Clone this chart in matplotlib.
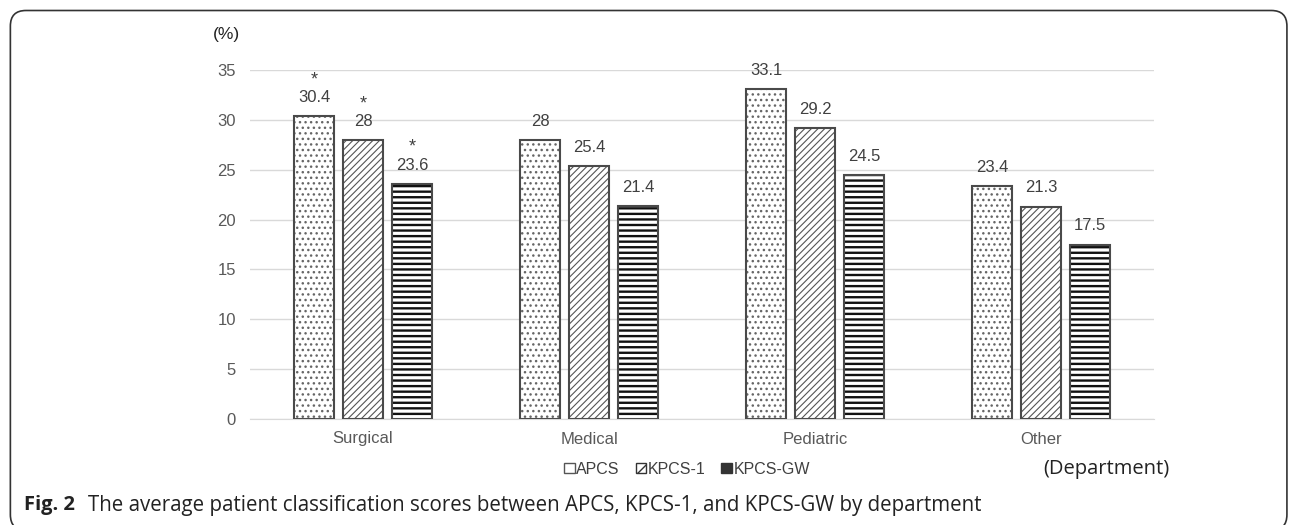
import numpy as np
import matplotlib.pyplot as plt
from matplotlib.patches import FancyBboxPatch, Patch

# Datos
departamentos = ['Surgical', 'Medical', 'Pediatric', 'Other']
series = ['APCS', 'KPCS-1', 'KPCS-GW']
apcs = [30.4, 28, 33.1, 23.4]
kpcs1 = [28, 25.4, 29.2, 21.3]
kpcsgw = [23.6, 21.4, 24.5, 17.5]
significativo = [True, False, False, False]  # asterisco solo en Surgical

valores = [apcs, kpcs1, kpcsgw]
tramas = ['...', '/////', '---']
grosor_trama = [1.0, 0.8, 1.7]
color_trama = ['#666666', '#555555', '#111111']

fuente_graf = ['Liberation Sans', 'DejaVu Sans']
fuente_pie = ['Open Sans', 'DejaVu Sans']

fig = plt.figure(figsize=(12.96, 5.25), dpi=100)
fig.patch.set_facecolor('white')

# Marco redondeado
marco = FancyBboxPatch((0.008, -0.01), 0.985, 0.99, boxstyle='round,pad=0,rounding_size=0.012',
                       transform=fig.transFigure, facecolor='none', edgecolor='#333333',
                       linewidth=1.2, mutation_aspect=1296 / 525)
fig.patches.append(marco)

ax = fig.add_axes([250 / 1296, 1 - 419 / 525, 904 / 1296, 349 / 525])
x = np.arange(len(departamentos))
ancho = 0.177
paso = 0.217

for i, vals in enumerate(valores):
    pos = x + (i - 1) * paso
    # capa de trama (color propio) + contorno encima
    capa = ax.bar(pos, vals, width=ancho, color='white', edgecolor=color_trama[i],
                  hatch=tramas[i], linewidth=0, zorder=3)
    for p in capa:
        if hasattr(p, 'set_hatch_linewidth'):
            p.set_hatch_linewidth(grosor_trama[i])
    ax.bar(pos, vals, width=ancho, color='none', edgecolor='#4a4a4a',
           linewidth=1.5, zorder=4)
    for j, v in enumerate(vals):
        ax.annotate(f"{v:g}", (pos[j], v), xytext=(0, 8), textcoords='offset points',
                    ha='center', va='bottom', fontsize=12, color='#404040', family=fuente_graf)
        if significativo[j]:
            ax.annotate('*', (pos[j], v), xytext=(0, 20), textcoords='offset points',
                        ha='center', va='bottom', fontsize=13, color='#404040', family=fuente_graf)

ax.set_xlim(-0.5, 3.5)
ax.set_ylim(0, 35)
ax.set_yticks(range(0, 36, 5))
ax.yaxis.grid(True, color='#d9d9d9', linewidth=1, zorder=0)
ax.set_axisbelow(True)
for s in ['top', 'right', 'left']:
    ax.spines[s].set_visible(False)
ax.spines['bottom'].set_color('#d9d9d9')
ax.tick_params(axis='both', length=0, colors='#595959', labelsize=12)
ax.tick_params(axis='y', pad=10)
ax.tick_params(axis='x', pad=9)
ax.set_xticks(x)
ax.set_xticklabels(departamentos, family=fuente_graf)
for lbl in ax.get_yticklabels():
    lbl.set_family(fuente_graf)

fig.text(226 / 1296, 1 - 35 / 525, '(%)', ha='center', va='center',
         fontsize=12.5, color='#222222', family=fuente_graf)
fig.text(1106 / 1296, 1 - 469 / 525, '(Department)', ha='center', va='center',
         fontsize=14.5, color='#222222', family=fuente_pie)

# Leyenda
manejadores = [Patch(facecolor='white', edgecolor='#555555', hatch='', label=series[0]),
               Patch(facecolor='white', edgecolor='#333333', hatch='///', label=series[1]),
               Patch(facecolor='#333333', edgecolor='#333333', hatch='---', label=series[2])]
fig.legend(handles=manejadores, loc='center', bbox_to_anchor=(687 / 1296, 1 - 469 / 525),
           ncol=3, frameon=False, handlelength=0.65, handleheight=0.65, handletextpad=0.1,
           columnspacing=1.0, prop={'family': fuente_graf, 'size': 11.5},
           labelcolor='#404040')

# Pie de figura
fig.text(24 / 1296, 1 - 505 / 525, 'Fig. 2', ha='left', va='center', fontsize=14.5,
         fontweight='bold', family=fuente_pie, color='#222222')
fig.text(88 / 1296, 1 - 505 / 525,
         'The average patient classification scores between APCS, KPCS-1, and KPCS-GW by department',
         ha='left', va='center', fontsize=14.8, family=fuente_pie, color='#222222')

plt.savefig('out.png', dpi=100)
plt.close()
